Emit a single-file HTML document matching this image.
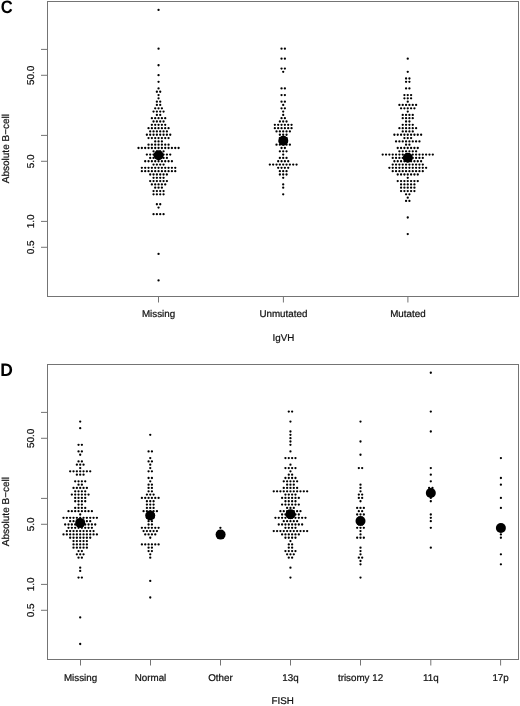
<!DOCTYPE html>
<html><head><meta charset="utf-8"><title>Beeswarm</title>
<style>
html,body{margin:0;padding:0;background:#fff;}
body{width:520px;height:706px;overflow:hidden;font-family:"Liberation Sans",sans-serif;}
svg{display:block;filter:grayscale(1);}
text{text-rendering:geometricPrecision;}
</style></head>
<body>
<svg width="520" height="706" viewBox="0 0 520 706">
<rect width="520" height="706" fill="#fff"/>
<text transform="translate(0.7 13.2) scale(0.92 1)" font-size="18" font-weight="bold" font-family="Liberation Sans, sans-serif" fill="#000">C</text>
<text transform="translate(0.25 376.4) scale(0.97 1)" font-size="18" font-weight="bold" font-family="Liberation Sans, sans-serif" fill="#000">D</text>
<rect x="47.5" y="1.5" width="471" height="295" fill="none" stroke="#747474" stroke-width="1"/>
<line x1="41" y1="49.4" x2="47.5" y2="49.4" stroke="#747474" stroke-width="1"/>
<line x1="41" y1="75.29" x2="47.5" y2="75.29" stroke="#747474" stroke-width="1"/>
<text x="33.6" y="75.29" transform="rotate(-90 33.6 75.29)" text-anchor="middle" font-size="10" font-family="Liberation Sans, sans-serif" fill="#111" stroke="#111" stroke-width="0.22">50.0</text>
<line x1="41" y1="135.4" x2="47.5" y2="135.4" stroke="#747474" stroke-width="1"/>
<line x1="41" y1="161.29" x2="47.5" y2="161.29" stroke="#747474" stroke-width="1"/>
<text x="33.6" y="161.29" transform="rotate(-90 33.6 161.29)" text-anchor="middle" font-size="10" font-family="Liberation Sans, sans-serif" fill="#111" stroke="#111" stroke-width="0.22">5.0</text>
<line x1="41" y1="221.4" x2="47.5" y2="221.4" stroke="#747474" stroke-width="1"/>
<text x="33.6" y="221.4" transform="rotate(-90 33.6 221.4)" text-anchor="middle" font-size="10" font-family="Liberation Sans, sans-serif" fill="#111" stroke="#111" stroke-width="0.22">1.0</text>
<line x1="41" y1="247.29" x2="47.5" y2="247.29" stroke="#747474" stroke-width="1"/>
<text x="33.6" y="247.29" transform="rotate(-90 33.6 247.29)" text-anchor="middle" font-size="10" font-family="Liberation Sans, sans-serif" fill="#111" stroke="#111" stroke-width="0.22">0.5</text>
<line x1="158.5" y1="296" x2="158.5" y2="302.5" stroke="#747474" stroke-width="1"/>
<text x="158.5" y="317" text-anchor="middle" font-size="9.8" font-family="Liberation Sans, sans-serif" fill="#111" stroke="#111" stroke-width="0.22">Missing</text>
<line x1="283.4" y1="296" x2="283.4" y2="302.5" stroke="#747474" stroke-width="1"/>
<text x="283.4" y="317" text-anchor="middle" font-size="9.8" font-family="Liberation Sans, sans-serif" fill="#111" stroke="#111" stroke-width="0.22">Unmutated</text>
<line x1="407.9" y1="296" x2="407.9" y2="302.5" stroke="#747474" stroke-width="1"/>
<text x="407.9" y="317" text-anchor="middle" font-size="9.8" font-family="Liberation Sans, sans-serif" fill="#111" stroke="#111" stroke-width="0.22">Mutated</text>
<text x="283.4" y="340.8" text-anchor="middle" font-size="9.8" font-family="Liberation Sans, sans-serif" fill="#111" stroke="#111" stroke-width="0.22">IgVH</text>
<text x="9.4" y="148.6" transform="rotate(-90 9.4 148.6)" text-anchor="middle" font-size="10" font-family="Liberation Sans, sans-serif" fill="#111" stroke="#111" stroke-width="0.22">Absolute B−cell</text>
<rect x="47.5" y="364.5" width="471" height="295" fill="none" stroke="#747474" stroke-width="1"/>
<line x1="41" y1="412.4" x2="47.5" y2="412.4" stroke="#747474" stroke-width="1"/>
<line x1="41" y1="438.29" x2="47.5" y2="438.29" stroke="#747474" stroke-width="1"/>
<text x="33.6" y="438.29" transform="rotate(-90 33.6 438.29)" text-anchor="middle" font-size="10" font-family="Liberation Sans, sans-serif" fill="#111" stroke="#111" stroke-width="0.22">50.0</text>
<line x1="41" y1="498.4" x2="47.5" y2="498.4" stroke="#747474" stroke-width="1"/>
<line x1="41" y1="524.29" x2="47.5" y2="524.29" stroke="#747474" stroke-width="1"/>
<text x="33.6" y="524.29" transform="rotate(-90 33.6 524.29)" text-anchor="middle" font-size="10" font-family="Liberation Sans, sans-serif" fill="#111" stroke="#111" stroke-width="0.22">5.0</text>
<line x1="41" y1="584.4" x2="47.5" y2="584.4" stroke="#747474" stroke-width="1"/>
<text x="33.6" y="584.4" transform="rotate(-90 33.6 584.4)" text-anchor="middle" font-size="10" font-family="Liberation Sans, sans-serif" fill="#111" stroke="#111" stroke-width="0.22">1.0</text>
<line x1="41" y1="610.29" x2="47.5" y2="610.29" stroke="#747474" stroke-width="1"/>
<text x="33.6" y="610.29" transform="rotate(-90 33.6 610.29)" text-anchor="middle" font-size="10" font-family="Liberation Sans, sans-serif" fill="#111" stroke="#111" stroke-width="0.22">0.5</text>
<line x1="80.5" y1="659" x2="80.5" y2="665.5" stroke="#747474" stroke-width="1"/>
<text x="80.5" y="681.2" text-anchor="middle" font-size="9.8" font-family="Liberation Sans, sans-serif" fill="#111" stroke="#111" stroke-width="0.22">Missing</text>
<line x1="150.5" y1="659" x2="150.5" y2="665.5" stroke="#747474" stroke-width="1"/>
<text x="150.5" y="681.2" text-anchor="middle" font-size="9.8" font-family="Liberation Sans, sans-serif" fill="#111" stroke="#111" stroke-width="0.22">Normal</text>
<line x1="220.5" y1="659" x2="220.5" y2="665.5" stroke="#747474" stroke-width="1"/>
<text x="220.5" y="681.2" text-anchor="middle" font-size="9.8" font-family="Liberation Sans, sans-serif" fill="#111" stroke="#111" stroke-width="0.22">Other</text>
<line x1="290.5" y1="659" x2="290.5" y2="665.5" stroke="#747474" stroke-width="1"/>
<text x="290.5" y="681.2" text-anchor="middle" font-size="9.8" font-family="Liberation Sans, sans-serif" fill="#111" stroke="#111" stroke-width="0.22">13q</text>
<line x1="360.5" y1="659" x2="360.5" y2="665.5" stroke="#747474" stroke-width="1"/>
<text x="360.5" y="681.2" text-anchor="middle" font-size="9.8" font-family="Liberation Sans, sans-serif" fill="#111" stroke="#111" stroke-width="0.22">trisomy 12</text>
<line x1="430.8" y1="659" x2="430.8" y2="665.5" stroke="#747474" stroke-width="1"/>
<text x="430.8" y="681.2" text-anchor="middle" font-size="9.8" font-family="Liberation Sans, sans-serif" fill="#111" stroke="#111" stroke-width="0.22">11q</text>
<line x1="500.6" y1="659" x2="500.6" y2="665.5" stroke="#747474" stroke-width="1"/>
<text x="500.6" y="681.2" text-anchor="middle" font-size="9.8" font-family="Liberation Sans, sans-serif" fill="#111" stroke="#111" stroke-width="0.22">17p</text>
<text x="282.6" y="704.1" text-anchor="middle" font-size="9.8" font-family="Liberation Sans, sans-serif" fill="#111" stroke="#111" stroke-width="0.22">FISH</text>
<text x="9.4" y="511.6" transform="rotate(-90 9.4 511.6)" text-anchor="middle" font-size="10" font-family="Liberation Sans, sans-serif" fill="#111" stroke="#111" stroke-width="0.22">Absolute B−cell</text>
<g fill="#000">
<circle cx="158.55" cy="9.97" r="1.15"/>
<circle cx="158.55" cy="48.7" r="1.15"/>
<circle cx="158.55" cy="65.25" r="1.15"/>
<circle cx="158.55" cy="75.18" r="1.15"/>
<circle cx="158.55" cy="81.8" r="1.15"/>
<circle cx="158.55" cy="88.42" r="1.15"/>
<circle cx="156.88" cy="91.73" r="1.15"/>
<circle cx="160.22" cy="91.73" r="1.15"/>
<circle cx="158.55" cy="95.04" r="1.15"/>
<circle cx="158.55" cy="98.35" r="1.15"/>
<circle cx="156.88" cy="101.66" r="1.15"/>
<circle cx="160.22" cy="101.66" r="1.15"/>
<circle cx="156.88" cy="104.97" r="1.15"/>
<circle cx="160.22" cy="104.97" r="1.15"/>
<circle cx="155.21" cy="108.28" r="1.15"/>
<circle cx="158.55" cy="108.28" r="1.15"/>
<circle cx="161.89" cy="108.28" r="1.15"/>
<circle cx="153.54" cy="111.59" r="1.15"/>
<circle cx="156.88" cy="111.59" r="1.15"/>
<circle cx="160.22" cy="111.59" r="1.15"/>
<circle cx="163.56" cy="111.59" r="1.15"/>
<circle cx="156.88" cy="114.9" r="1.15"/>
<circle cx="160.22" cy="114.9" r="1.15"/>
<circle cx="151.87" cy="118.21" r="1.15"/>
<circle cx="155.21" cy="118.21" r="1.15"/>
<circle cx="158.55" cy="118.21" r="1.15"/>
<circle cx="161.89" cy="118.21" r="1.15"/>
<circle cx="165.23" cy="118.21" r="1.15"/>
<circle cx="153.54" cy="121.52" r="1.15"/>
<circle cx="156.88" cy="121.52" r="1.15"/>
<circle cx="160.22" cy="121.52" r="1.15"/>
<circle cx="163.56" cy="121.52" r="1.15"/>
<circle cx="151.87" cy="124.83" r="1.15"/>
<circle cx="155.21" cy="124.83" r="1.15"/>
<circle cx="158.55" cy="124.83" r="1.15"/>
<circle cx="161.89" cy="124.83" r="1.15"/>
<circle cx="165.23" cy="124.83" r="1.15"/>
<circle cx="148.53" cy="128.14" r="1.15"/>
<circle cx="151.87" cy="128.14" r="1.15"/>
<circle cx="155.21" cy="128.14" r="1.15"/>
<circle cx="158.55" cy="128.14" r="1.15"/>
<circle cx="161.89" cy="128.14" r="1.15"/>
<circle cx="165.23" cy="128.14" r="1.15"/>
<circle cx="168.57" cy="128.14" r="1.15"/>
<circle cx="150.2" cy="131.45" r="1.15"/>
<circle cx="153.54" cy="131.45" r="1.15"/>
<circle cx="156.88" cy="131.45" r="1.15"/>
<circle cx="160.22" cy="131.45" r="1.15"/>
<circle cx="163.56" cy="131.45" r="1.15"/>
<circle cx="166.9" cy="131.45" r="1.15"/>
<circle cx="146.86" cy="134.76" r="1.15"/>
<circle cx="150.2" cy="134.76" r="1.15"/>
<circle cx="153.54" cy="134.76" r="1.15"/>
<circle cx="156.88" cy="134.76" r="1.15"/>
<circle cx="160.22" cy="134.76" r="1.15"/>
<circle cx="163.56" cy="134.76" r="1.15"/>
<circle cx="166.9" cy="134.76" r="1.15"/>
<circle cx="170.24" cy="134.76" r="1.15"/>
<circle cx="148.53" cy="138.07" r="1.15"/>
<circle cx="151.87" cy="138.07" r="1.15"/>
<circle cx="155.21" cy="138.07" r="1.15"/>
<circle cx="158.55" cy="138.07" r="1.15"/>
<circle cx="161.89" cy="138.07" r="1.15"/>
<circle cx="165.23" cy="138.07" r="1.15"/>
<circle cx="168.57" cy="138.07" r="1.15"/>
<circle cx="155.21" cy="141.38" r="1.15"/>
<circle cx="158.55" cy="141.38" r="1.15"/>
<circle cx="161.89" cy="141.38" r="1.15"/>
<circle cx="148.53" cy="144.69" r="1.15"/>
<circle cx="151.87" cy="144.69" r="1.15"/>
<circle cx="155.21" cy="144.69" r="1.15"/>
<circle cx="158.55" cy="144.69" r="1.15"/>
<circle cx="161.89" cy="144.69" r="1.15"/>
<circle cx="165.23" cy="144.69" r="1.15"/>
<circle cx="168.57" cy="144.69" r="1.15"/>
<circle cx="138.51" cy="148" r="1.15"/>
<circle cx="141.85" cy="148" r="1.15"/>
<circle cx="145.19" cy="148" r="1.15"/>
<circle cx="148.53" cy="148" r="1.15"/>
<circle cx="151.87" cy="148" r="1.15"/>
<circle cx="155.21" cy="148" r="1.15"/>
<circle cx="158.55" cy="148" r="1.15"/>
<circle cx="161.89" cy="148" r="1.15"/>
<circle cx="165.23" cy="148" r="1.15"/>
<circle cx="168.57" cy="148" r="1.15"/>
<circle cx="171.91" cy="148" r="1.15"/>
<circle cx="175.25" cy="148" r="1.15"/>
<circle cx="178.59" cy="148" r="1.15"/>
<circle cx="153.54" cy="151.31" r="1.15"/>
<circle cx="156.88" cy="151.31" r="1.15"/>
<circle cx="160.22" cy="151.31" r="1.15"/>
<circle cx="163.56" cy="151.31" r="1.15"/>
<circle cx="146.86" cy="154.62" r="1.15"/>
<circle cx="150.2" cy="154.62" r="1.15"/>
<circle cx="153.54" cy="154.62" r="1.15"/>
<circle cx="156.88" cy="154.62" r="1.15"/>
<circle cx="160.22" cy="154.62" r="1.15"/>
<circle cx="163.56" cy="154.62" r="1.15"/>
<circle cx="166.9" cy="154.62" r="1.15"/>
<circle cx="170.24" cy="154.62" r="1.15"/>
<circle cx="150.2" cy="157.93" r="1.15"/>
<circle cx="153.54" cy="157.93" r="1.15"/>
<circle cx="156.88" cy="157.93" r="1.15"/>
<circle cx="160.22" cy="157.93" r="1.15"/>
<circle cx="163.56" cy="157.93" r="1.15"/>
<circle cx="166.9" cy="157.93" r="1.15"/>
<circle cx="145.19" cy="161.24" r="1.15"/>
<circle cx="148.53" cy="161.24" r="1.15"/>
<circle cx="151.87" cy="161.24" r="1.15"/>
<circle cx="155.21" cy="161.24" r="1.15"/>
<circle cx="158.55" cy="161.24" r="1.15"/>
<circle cx="161.89" cy="161.24" r="1.15"/>
<circle cx="165.23" cy="161.24" r="1.15"/>
<circle cx="168.57" cy="161.24" r="1.15"/>
<circle cx="171.91" cy="161.24" r="1.15"/>
<circle cx="153.54" cy="164.55" r="1.15"/>
<circle cx="156.88" cy="164.55" r="1.15"/>
<circle cx="160.22" cy="164.55" r="1.15"/>
<circle cx="163.56" cy="164.55" r="1.15"/>
<circle cx="141.85" cy="167.86" r="1.15"/>
<circle cx="145.19" cy="167.86" r="1.15"/>
<circle cx="148.53" cy="167.86" r="1.15"/>
<circle cx="151.87" cy="167.86" r="1.15"/>
<circle cx="155.21" cy="167.86" r="1.15"/>
<circle cx="158.55" cy="167.86" r="1.15"/>
<circle cx="161.89" cy="167.86" r="1.15"/>
<circle cx="165.23" cy="167.86" r="1.15"/>
<circle cx="168.57" cy="167.86" r="1.15"/>
<circle cx="171.91" cy="167.86" r="1.15"/>
<circle cx="175.25" cy="167.86" r="1.15"/>
<circle cx="141.85" cy="171.17" r="1.15"/>
<circle cx="145.19" cy="171.17" r="1.15"/>
<circle cx="148.53" cy="171.17" r="1.15"/>
<circle cx="151.87" cy="171.17" r="1.15"/>
<circle cx="155.21" cy="171.17" r="1.15"/>
<circle cx="158.55" cy="171.17" r="1.15"/>
<circle cx="161.89" cy="171.17" r="1.15"/>
<circle cx="165.23" cy="171.17" r="1.15"/>
<circle cx="168.57" cy="171.17" r="1.15"/>
<circle cx="171.91" cy="171.17" r="1.15"/>
<circle cx="175.25" cy="171.17" r="1.15"/>
<circle cx="150.2" cy="174.48" r="1.15"/>
<circle cx="153.54" cy="174.48" r="1.15"/>
<circle cx="156.88" cy="174.48" r="1.15"/>
<circle cx="160.22" cy="174.48" r="1.15"/>
<circle cx="163.56" cy="174.48" r="1.15"/>
<circle cx="166.9" cy="174.48" r="1.15"/>
<circle cx="153.54" cy="177.79" r="1.15"/>
<circle cx="156.88" cy="177.79" r="1.15"/>
<circle cx="160.22" cy="177.79" r="1.15"/>
<circle cx="163.56" cy="177.79" r="1.15"/>
<circle cx="150.2" cy="181.1" r="1.15"/>
<circle cx="153.54" cy="181.1" r="1.15"/>
<circle cx="156.88" cy="181.1" r="1.15"/>
<circle cx="160.22" cy="181.1" r="1.15"/>
<circle cx="163.56" cy="181.1" r="1.15"/>
<circle cx="166.9" cy="181.1" r="1.15"/>
<circle cx="151.87" cy="184.41" r="1.15"/>
<circle cx="155.21" cy="184.41" r="1.15"/>
<circle cx="158.55" cy="184.41" r="1.15"/>
<circle cx="161.89" cy="184.41" r="1.15"/>
<circle cx="165.23" cy="184.41" r="1.15"/>
<circle cx="155.21" cy="187.72" r="1.15"/>
<circle cx="158.55" cy="187.72" r="1.15"/>
<circle cx="161.89" cy="187.72" r="1.15"/>
<circle cx="153.54" cy="191.03" r="1.15"/>
<circle cx="156.88" cy="191.03" r="1.15"/>
<circle cx="160.22" cy="191.03" r="1.15"/>
<circle cx="163.56" cy="191.03" r="1.15"/>
<circle cx="153.54" cy="194.34" r="1.15"/>
<circle cx="156.88" cy="194.34" r="1.15"/>
<circle cx="160.22" cy="194.34" r="1.15"/>
<circle cx="163.56" cy="194.34" r="1.15"/>
<circle cx="156.88" cy="204.27" r="1.15"/>
<circle cx="160.22" cy="204.27" r="1.15"/>
<circle cx="158.55" cy="207.58" r="1.15"/>
<circle cx="153.54" cy="214.2" r="1.15"/>
<circle cx="156.88" cy="214.2" r="1.15"/>
<circle cx="160.22" cy="214.2" r="1.15"/>
<circle cx="163.56" cy="214.2" r="1.15"/>
<circle cx="158.55" cy="253.92" r="1.15"/>
<circle cx="158.55" cy="280.4" r="1.15"/>
<circle cx="281.53" cy="48.7" r="1.15"/>
<circle cx="284.87" cy="48.7" r="1.15"/>
<circle cx="281.53" cy="58.63" r="1.15"/>
<circle cx="284.87" cy="58.63" r="1.15"/>
<circle cx="281.53" cy="68.56" r="1.15"/>
<circle cx="284.87" cy="68.56" r="1.15"/>
<circle cx="283.2" cy="71.87" r="1.15"/>
<circle cx="281.53" cy="88.42" r="1.15"/>
<circle cx="284.87" cy="88.42" r="1.15"/>
<circle cx="281.53" cy="95.04" r="1.15"/>
<circle cx="284.87" cy="95.04" r="1.15"/>
<circle cx="281.53" cy="101.66" r="1.15"/>
<circle cx="284.87" cy="101.66" r="1.15"/>
<circle cx="283.2" cy="104.97" r="1.15"/>
<circle cx="281.53" cy="108.28" r="1.15"/>
<circle cx="284.87" cy="108.28" r="1.15"/>
<circle cx="283.2" cy="111.59" r="1.15"/>
<circle cx="283.2" cy="114.9" r="1.15"/>
<circle cx="281.53" cy="118.21" r="1.15"/>
<circle cx="284.87" cy="118.21" r="1.15"/>
<circle cx="279.86" cy="121.52" r="1.15"/>
<circle cx="283.2" cy="121.52" r="1.15"/>
<circle cx="286.54" cy="121.52" r="1.15"/>
<circle cx="274.85" cy="124.83" r="1.15"/>
<circle cx="278.19" cy="124.83" r="1.15"/>
<circle cx="281.53" cy="124.83" r="1.15"/>
<circle cx="284.87" cy="124.83" r="1.15"/>
<circle cx="288.21" cy="124.83" r="1.15"/>
<circle cx="291.55" cy="124.83" r="1.15"/>
<circle cx="274.85" cy="128.14" r="1.15"/>
<circle cx="278.19" cy="128.14" r="1.15"/>
<circle cx="281.53" cy="128.14" r="1.15"/>
<circle cx="284.87" cy="128.14" r="1.15"/>
<circle cx="288.21" cy="128.14" r="1.15"/>
<circle cx="291.55" cy="128.14" r="1.15"/>
<circle cx="276.52" cy="131.45" r="1.15"/>
<circle cx="279.86" cy="131.45" r="1.15"/>
<circle cx="283.2" cy="131.45" r="1.15"/>
<circle cx="286.54" cy="131.45" r="1.15"/>
<circle cx="289.88" cy="131.45" r="1.15"/>
<circle cx="279.86" cy="134.76" r="1.15"/>
<circle cx="283.2" cy="134.76" r="1.15"/>
<circle cx="286.54" cy="134.76" r="1.15"/>
<circle cx="279.86" cy="138.07" r="1.15"/>
<circle cx="283.2" cy="138.07" r="1.15"/>
<circle cx="286.54" cy="138.07" r="1.15"/>
<circle cx="279.86" cy="141.38" r="1.15"/>
<circle cx="283.2" cy="141.38" r="1.15"/>
<circle cx="286.54" cy="141.38" r="1.15"/>
<circle cx="276.52" cy="144.69" r="1.15"/>
<circle cx="279.86" cy="144.69" r="1.15"/>
<circle cx="283.2" cy="144.69" r="1.15"/>
<circle cx="286.54" cy="144.69" r="1.15"/>
<circle cx="289.88" cy="144.69" r="1.15"/>
<circle cx="281.53" cy="148" r="1.15"/>
<circle cx="284.87" cy="148" r="1.15"/>
<circle cx="279.86" cy="151.31" r="1.15"/>
<circle cx="283.2" cy="151.31" r="1.15"/>
<circle cx="286.54" cy="151.31" r="1.15"/>
<circle cx="283.2" cy="154.62" r="1.15"/>
<circle cx="279.86" cy="157.93" r="1.15"/>
<circle cx="283.2" cy="157.93" r="1.15"/>
<circle cx="286.54" cy="157.93" r="1.15"/>
<circle cx="278.19" cy="161.24" r="1.15"/>
<circle cx="281.53" cy="161.24" r="1.15"/>
<circle cx="284.87" cy="161.24" r="1.15"/>
<circle cx="288.21" cy="161.24" r="1.15"/>
<circle cx="269.84" cy="164.55" r="1.15"/>
<circle cx="273.18" cy="164.55" r="1.15"/>
<circle cx="276.52" cy="164.55" r="1.15"/>
<circle cx="279.86" cy="164.55" r="1.15"/>
<circle cx="283.2" cy="164.55" r="1.15"/>
<circle cx="286.54" cy="164.55" r="1.15"/>
<circle cx="289.88" cy="164.55" r="1.15"/>
<circle cx="293.22" cy="164.55" r="1.15"/>
<circle cx="296.56" cy="164.55" r="1.15"/>
<circle cx="278.19" cy="167.86" r="1.15"/>
<circle cx="281.53" cy="167.86" r="1.15"/>
<circle cx="284.87" cy="167.86" r="1.15"/>
<circle cx="288.21" cy="167.86" r="1.15"/>
<circle cx="279.86" cy="171.17" r="1.15"/>
<circle cx="283.2" cy="171.17" r="1.15"/>
<circle cx="286.54" cy="171.17" r="1.15"/>
<circle cx="279.86" cy="174.48" r="1.15"/>
<circle cx="283.2" cy="174.48" r="1.15"/>
<circle cx="286.54" cy="174.48" r="1.15"/>
<circle cx="283.2" cy="177.79" r="1.15"/>
<circle cx="283.2" cy="184.41" r="1.15"/>
<circle cx="283.2" cy="187.72" r="1.15"/>
<circle cx="283.2" cy="194.34" r="1.15"/>
<circle cx="407.75" cy="58.63" r="1.15"/>
<circle cx="407.75" cy="71.87" r="1.15"/>
<circle cx="406.08" cy="78.49" r="1.15"/>
<circle cx="409.42" cy="78.49" r="1.15"/>
<circle cx="406.08" cy="81.8" r="1.15"/>
<circle cx="409.42" cy="81.8" r="1.15"/>
<circle cx="406.08" cy="88.42" r="1.15"/>
<circle cx="409.42" cy="88.42" r="1.15"/>
<circle cx="404.41" cy="95.04" r="1.15"/>
<circle cx="407.75" cy="95.04" r="1.15"/>
<circle cx="411.09" cy="95.04" r="1.15"/>
<circle cx="404.41" cy="98.35" r="1.15"/>
<circle cx="407.75" cy="98.35" r="1.15"/>
<circle cx="411.09" cy="98.35" r="1.15"/>
<circle cx="407.75" cy="101.66" r="1.15"/>
<circle cx="399.4" cy="104.97" r="1.15"/>
<circle cx="402.74" cy="104.97" r="1.15"/>
<circle cx="406.08" cy="104.97" r="1.15"/>
<circle cx="409.42" cy="104.97" r="1.15"/>
<circle cx="412.76" cy="104.97" r="1.15"/>
<circle cx="416.1" cy="104.97" r="1.15"/>
<circle cx="401.07" cy="108.28" r="1.15"/>
<circle cx="404.41" cy="108.28" r="1.15"/>
<circle cx="407.75" cy="108.28" r="1.15"/>
<circle cx="411.09" cy="108.28" r="1.15"/>
<circle cx="414.43" cy="108.28" r="1.15"/>
<circle cx="407.75" cy="111.59" r="1.15"/>
<circle cx="402.74" cy="114.9" r="1.15"/>
<circle cx="406.08" cy="114.9" r="1.15"/>
<circle cx="409.42" cy="114.9" r="1.15"/>
<circle cx="412.76" cy="114.9" r="1.15"/>
<circle cx="402.74" cy="118.21" r="1.15"/>
<circle cx="406.08" cy="118.21" r="1.15"/>
<circle cx="409.42" cy="118.21" r="1.15"/>
<circle cx="412.76" cy="118.21" r="1.15"/>
<circle cx="406.08" cy="121.52" r="1.15"/>
<circle cx="409.42" cy="121.52" r="1.15"/>
<circle cx="402.74" cy="124.83" r="1.15"/>
<circle cx="406.08" cy="124.83" r="1.15"/>
<circle cx="409.42" cy="124.83" r="1.15"/>
<circle cx="412.76" cy="124.83" r="1.15"/>
<circle cx="399.4" cy="128.14" r="1.15"/>
<circle cx="402.74" cy="128.14" r="1.15"/>
<circle cx="406.08" cy="128.14" r="1.15"/>
<circle cx="409.42" cy="128.14" r="1.15"/>
<circle cx="412.76" cy="128.14" r="1.15"/>
<circle cx="416.1" cy="128.14" r="1.15"/>
<circle cx="402.74" cy="131.45" r="1.15"/>
<circle cx="406.08" cy="131.45" r="1.15"/>
<circle cx="409.42" cy="131.45" r="1.15"/>
<circle cx="412.76" cy="131.45" r="1.15"/>
<circle cx="394.39" cy="134.76" r="1.15"/>
<circle cx="397.73" cy="134.76" r="1.15"/>
<circle cx="401.07" cy="134.76" r="1.15"/>
<circle cx="404.41" cy="134.76" r="1.15"/>
<circle cx="407.75" cy="134.76" r="1.15"/>
<circle cx="411.09" cy="134.76" r="1.15"/>
<circle cx="414.43" cy="134.76" r="1.15"/>
<circle cx="417.77" cy="134.76" r="1.15"/>
<circle cx="421.11" cy="134.76" r="1.15"/>
<circle cx="404.41" cy="138.07" r="1.15"/>
<circle cx="407.75" cy="138.07" r="1.15"/>
<circle cx="411.09" cy="138.07" r="1.15"/>
<circle cx="396.06" cy="141.38" r="1.15"/>
<circle cx="399.4" cy="141.38" r="1.15"/>
<circle cx="402.74" cy="141.38" r="1.15"/>
<circle cx="406.08" cy="141.38" r="1.15"/>
<circle cx="409.42" cy="141.38" r="1.15"/>
<circle cx="412.76" cy="141.38" r="1.15"/>
<circle cx="416.1" cy="141.38" r="1.15"/>
<circle cx="419.44" cy="141.38" r="1.15"/>
<circle cx="406.08" cy="144.69" r="1.15"/>
<circle cx="409.42" cy="144.69" r="1.15"/>
<circle cx="397.73" cy="148" r="1.15"/>
<circle cx="401.07" cy="148" r="1.15"/>
<circle cx="404.41" cy="148" r="1.15"/>
<circle cx="407.75" cy="148" r="1.15"/>
<circle cx="411.09" cy="148" r="1.15"/>
<circle cx="414.43" cy="148" r="1.15"/>
<circle cx="417.77" cy="148" r="1.15"/>
<circle cx="399.4" cy="151.31" r="1.15"/>
<circle cx="402.74" cy="151.31" r="1.15"/>
<circle cx="406.08" cy="151.31" r="1.15"/>
<circle cx="409.42" cy="151.31" r="1.15"/>
<circle cx="412.76" cy="151.31" r="1.15"/>
<circle cx="416.1" cy="151.31" r="1.15"/>
<circle cx="382.7" cy="154.62" r="1.15"/>
<circle cx="386.04" cy="154.62" r="1.15"/>
<circle cx="389.38" cy="154.62" r="1.15"/>
<circle cx="392.72" cy="154.62" r="1.15"/>
<circle cx="396.06" cy="154.62" r="1.15"/>
<circle cx="399.4" cy="154.62" r="1.15"/>
<circle cx="402.74" cy="154.62" r="1.15"/>
<circle cx="406.08" cy="154.62" r="1.15"/>
<circle cx="409.42" cy="154.62" r="1.15"/>
<circle cx="412.76" cy="154.62" r="1.15"/>
<circle cx="416.1" cy="154.62" r="1.15"/>
<circle cx="419.44" cy="154.62" r="1.15"/>
<circle cx="422.78" cy="154.62" r="1.15"/>
<circle cx="426.12" cy="154.62" r="1.15"/>
<circle cx="429.46" cy="154.62" r="1.15"/>
<circle cx="432.8" cy="154.62" r="1.15"/>
<circle cx="392.72" cy="157.93" r="1.15"/>
<circle cx="396.06" cy="157.93" r="1.15"/>
<circle cx="399.4" cy="157.93" r="1.15"/>
<circle cx="402.74" cy="157.93" r="1.15"/>
<circle cx="406.08" cy="157.93" r="1.15"/>
<circle cx="409.42" cy="157.93" r="1.15"/>
<circle cx="412.76" cy="157.93" r="1.15"/>
<circle cx="416.1" cy="157.93" r="1.15"/>
<circle cx="419.44" cy="157.93" r="1.15"/>
<circle cx="422.78" cy="157.93" r="1.15"/>
<circle cx="394.39" cy="161.24" r="1.15"/>
<circle cx="397.73" cy="161.24" r="1.15"/>
<circle cx="401.07" cy="161.24" r="1.15"/>
<circle cx="404.41" cy="161.24" r="1.15"/>
<circle cx="407.75" cy="161.24" r="1.15"/>
<circle cx="411.09" cy="161.24" r="1.15"/>
<circle cx="414.43" cy="161.24" r="1.15"/>
<circle cx="417.77" cy="161.24" r="1.15"/>
<circle cx="421.11" cy="161.24" r="1.15"/>
<circle cx="392.72" cy="164.55" r="1.15"/>
<circle cx="396.06" cy="164.55" r="1.15"/>
<circle cx="399.4" cy="164.55" r="1.15"/>
<circle cx="402.74" cy="164.55" r="1.15"/>
<circle cx="406.08" cy="164.55" r="1.15"/>
<circle cx="409.42" cy="164.55" r="1.15"/>
<circle cx="412.76" cy="164.55" r="1.15"/>
<circle cx="416.1" cy="164.55" r="1.15"/>
<circle cx="419.44" cy="164.55" r="1.15"/>
<circle cx="422.78" cy="164.55" r="1.15"/>
<circle cx="389.38" cy="167.86" r="1.15"/>
<circle cx="392.72" cy="167.86" r="1.15"/>
<circle cx="396.06" cy="167.86" r="1.15"/>
<circle cx="399.4" cy="167.86" r="1.15"/>
<circle cx="402.74" cy="167.86" r="1.15"/>
<circle cx="406.08" cy="167.86" r="1.15"/>
<circle cx="409.42" cy="167.86" r="1.15"/>
<circle cx="412.76" cy="167.86" r="1.15"/>
<circle cx="416.1" cy="167.86" r="1.15"/>
<circle cx="419.44" cy="167.86" r="1.15"/>
<circle cx="422.78" cy="167.86" r="1.15"/>
<circle cx="426.12" cy="167.86" r="1.15"/>
<circle cx="392.72" cy="171.17" r="1.15"/>
<circle cx="396.06" cy="171.17" r="1.15"/>
<circle cx="399.4" cy="171.17" r="1.15"/>
<circle cx="402.74" cy="171.17" r="1.15"/>
<circle cx="406.08" cy="171.17" r="1.15"/>
<circle cx="409.42" cy="171.17" r="1.15"/>
<circle cx="412.76" cy="171.17" r="1.15"/>
<circle cx="416.1" cy="171.17" r="1.15"/>
<circle cx="419.44" cy="171.17" r="1.15"/>
<circle cx="422.78" cy="171.17" r="1.15"/>
<circle cx="397.73" cy="174.48" r="1.15"/>
<circle cx="401.07" cy="174.48" r="1.15"/>
<circle cx="404.41" cy="174.48" r="1.15"/>
<circle cx="407.75" cy="174.48" r="1.15"/>
<circle cx="411.09" cy="174.48" r="1.15"/>
<circle cx="414.43" cy="174.48" r="1.15"/>
<circle cx="417.77" cy="174.48" r="1.15"/>
<circle cx="407.75" cy="177.79" r="1.15"/>
<circle cx="397.73" cy="181.1" r="1.15"/>
<circle cx="401.07" cy="181.1" r="1.15"/>
<circle cx="404.41" cy="181.1" r="1.15"/>
<circle cx="407.75" cy="181.1" r="1.15"/>
<circle cx="411.09" cy="181.1" r="1.15"/>
<circle cx="414.43" cy="181.1" r="1.15"/>
<circle cx="417.77" cy="181.1" r="1.15"/>
<circle cx="401.07" cy="184.41" r="1.15"/>
<circle cx="404.41" cy="184.41" r="1.15"/>
<circle cx="407.75" cy="184.41" r="1.15"/>
<circle cx="411.09" cy="184.41" r="1.15"/>
<circle cx="414.43" cy="184.41" r="1.15"/>
<circle cx="401.07" cy="187.72" r="1.15"/>
<circle cx="404.41" cy="187.72" r="1.15"/>
<circle cx="407.75" cy="187.72" r="1.15"/>
<circle cx="411.09" cy="187.72" r="1.15"/>
<circle cx="414.43" cy="187.72" r="1.15"/>
<circle cx="401.07" cy="191.03" r="1.15"/>
<circle cx="404.41" cy="191.03" r="1.15"/>
<circle cx="407.75" cy="191.03" r="1.15"/>
<circle cx="411.09" cy="191.03" r="1.15"/>
<circle cx="414.43" cy="191.03" r="1.15"/>
<circle cx="406.08" cy="194.34" r="1.15"/>
<circle cx="409.42" cy="194.34" r="1.15"/>
<circle cx="407.75" cy="197.65" r="1.15"/>
<circle cx="406.08" cy="200.96" r="1.15"/>
<circle cx="409.42" cy="200.96" r="1.15"/>
<circle cx="407.75" cy="217.51" r="1.15"/>
<circle cx="407.75" cy="234.06" r="1.15"/>
<circle cx="80.2" cy="421.56" r="1.15"/>
<circle cx="80.2" cy="428.2" r="1.15"/>
<circle cx="78.53" cy="444.8" r="1.15"/>
<circle cx="81.87" cy="444.8" r="1.15"/>
<circle cx="78.53" cy="451.44" r="1.15"/>
<circle cx="81.87" cy="451.44" r="1.15"/>
<circle cx="80.2" cy="454.76" r="1.15"/>
<circle cx="78.53" cy="461.4" r="1.15"/>
<circle cx="81.87" cy="461.4" r="1.15"/>
<circle cx="76.86" cy="464.72" r="1.15"/>
<circle cx="80.2" cy="464.72" r="1.15"/>
<circle cx="83.54" cy="464.72" r="1.15"/>
<circle cx="80.2" cy="468.04" r="1.15"/>
<circle cx="70.18" cy="471.36" r="1.15"/>
<circle cx="73.52" cy="471.36" r="1.15"/>
<circle cx="76.86" cy="471.36" r="1.15"/>
<circle cx="80.2" cy="471.36" r="1.15"/>
<circle cx="83.54" cy="471.36" r="1.15"/>
<circle cx="86.88" cy="471.36" r="1.15"/>
<circle cx="90.22" cy="471.36" r="1.15"/>
<circle cx="76.86" cy="474.68" r="1.15"/>
<circle cx="80.2" cy="474.68" r="1.15"/>
<circle cx="83.54" cy="474.68" r="1.15"/>
<circle cx="75.19" cy="481.32" r="1.15"/>
<circle cx="78.53" cy="481.32" r="1.15"/>
<circle cx="81.87" cy="481.32" r="1.15"/>
<circle cx="85.21" cy="481.32" r="1.15"/>
<circle cx="78.53" cy="484.64" r="1.15"/>
<circle cx="81.87" cy="484.64" r="1.15"/>
<circle cx="73.52" cy="487.96" r="1.15"/>
<circle cx="76.86" cy="487.96" r="1.15"/>
<circle cx="80.2" cy="487.96" r="1.15"/>
<circle cx="83.54" cy="487.96" r="1.15"/>
<circle cx="86.88" cy="487.96" r="1.15"/>
<circle cx="75.19" cy="491.28" r="1.15"/>
<circle cx="78.53" cy="491.28" r="1.15"/>
<circle cx="81.87" cy="491.28" r="1.15"/>
<circle cx="85.21" cy="491.28" r="1.15"/>
<circle cx="71.85" cy="494.6" r="1.15"/>
<circle cx="75.19" cy="494.6" r="1.15"/>
<circle cx="78.53" cy="494.6" r="1.15"/>
<circle cx="81.87" cy="494.6" r="1.15"/>
<circle cx="85.21" cy="494.6" r="1.15"/>
<circle cx="88.55" cy="494.6" r="1.15"/>
<circle cx="75.19" cy="497.92" r="1.15"/>
<circle cx="78.53" cy="497.92" r="1.15"/>
<circle cx="81.87" cy="497.92" r="1.15"/>
<circle cx="85.21" cy="497.92" r="1.15"/>
<circle cx="75.19" cy="501.24" r="1.15"/>
<circle cx="78.53" cy="501.24" r="1.15"/>
<circle cx="81.87" cy="501.24" r="1.15"/>
<circle cx="85.21" cy="501.24" r="1.15"/>
<circle cx="78.53" cy="504.56" r="1.15"/>
<circle cx="81.87" cy="504.56" r="1.15"/>
<circle cx="75.19" cy="507.88" r="1.15"/>
<circle cx="78.53" cy="507.88" r="1.15"/>
<circle cx="81.87" cy="507.88" r="1.15"/>
<circle cx="85.21" cy="507.88" r="1.15"/>
<circle cx="68.51" cy="511.2" r="1.15"/>
<circle cx="71.85" cy="511.2" r="1.15"/>
<circle cx="75.19" cy="511.2" r="1.15"/>
<circle cx="78.53" cy="511.2" r="1.15"/>
<circle cx="81.87" cy="511.2" r="1.15"/>
<circle cx="85.21" cy="511.2" r="1.15"/>
<circle cx="88.55" cy="511.2" r="1.15"/>
<circle cx="91.89" cy="511.2" r="1.15"/>
<circle cx="80.2" cy="514.52" r="1.15"/>
<circle cx="63.5" cy="517.84" r="1.15"/>
<circle cx="66.84" cy="517.84" r="1.15"/>
<circle cx="70.18" cy="517.84" r="1.15"/>
<circle cx="73.52" cy="517.84" r="1.15"/>
<circle cx="76.86" cy="517.84" r="1.15"/>
<circle cx="80.2" cy="517.84" r="1.15"/>
<circle cx="83.54" cy="517.84" r="1.15"/>
<circle cx="86.88" cy="517.84" r="1.15"/>
<circle cx="90.22" cy="517.84" r="1.15"/>
<circle cx="93.56" cy="517.84" r="1.15"/>
<circle cx="96.9" cy="517.84" r="1.15"/>
<circle cx="70.18" cy="521.16" r="1.15"/>
<circle cx="73.52" cy="521.16" r="1.15"/>
<circle cx="76.86" cy="521.16" r="1.15"/>
<circle cx="80.2" cy="521.16" r="1.15"/>
<circle cx="83.54" cy="521.16" r="1.15"/>
<circle cx="86.88" cy="521.16" r="1.15"/>
<circle cx="90.22" cy="521.16" r="1.15"/>
<circle cx="65.17" cy="524.48" r="1.15"/>
<circle cx="68.51" cy="524.48" r="1.15"/>
<circle cx="71.85" cy="524.48" r="1.15"/>
<circle cx="75.19" cy="524.48" r="1.15"/>
<circle cx="78.53" cy="524.48" r="1.15"/>
<circle cx="81.87" cy="524.48" r="1.15"/>
<circle cx="85.21" cy="524.48" r="1.15"/>
<circle cx="88.55" cy="524.48" r="1.15"/>
<circle cx="91.89" cy="524.48" r="1.15"/>
<circle cx="95.23" cy="524.48" r="1.15"/>
<circle cx="68.51" cy="527.8" r="1.15"/>
<circle cx="71.85" cy="527.8" r="1.15"/>
<circle cx="75.19" cy="527.8" r="1.15"/>
<circle cx="78.53" cy="527.8" r="1.15"/>
<circle cx="81.87" cy="527.8" r="1.15"/>
<circle cx="85.21" cy="527.8" r="1.15"/>
<circle cx="88.55" cy="527.8" r="1.15"/>
<circle cx="91.89" cy="527.8" r="1.15"/>
<circle cx="66.84" cy="531.12" r="1.15"/>
<circle cx="70.18" cy="531.12" r="1.15"/>
<circle cx="73.52" cy="531.12" r="1.15"/>
<circle cx="76.86" cy="531.12" r="1.15"/>
<circle cx="80.2" cy="531.12" r="1.15"/>
<circle cx="83.54" cy="531.12" r="1.15"/>
<circle cx="86.88" cy="531.12" r="1.15"/>
<circle cx="90.22" cy="531.12" r="1.15"/>
<circle cx="93.56" cy="531.12" r="1.15"/>
<circle cx="63.5" cy="534.44" r="1.15"/>
<circle cx="66.84" cy="534.44" r="1.15"/>
<circle cx="70.18" cy="534.44" r="1.15"/>
<circle cx="73.52" cy="534.44" r="1.15"/>
<circle cx="76.86" cy="534.44" r="1.15"/>
<circle cx="80.2" cy="534.44" r="1.15"/>
<circle cx="83.54" cy="534.44" r="1.15"/>
<circle cx="86.88" cy="534.44" r="1.15"/>
<circle cx="90.22" cy="534.44" r="1.15"/>
<circle cx="93.56" cy="534.44" r="1.15"/>
<circle cx="96.9" cy="534.44" r="1.15"/>
<circle cx="70.18" cy="537.76" r="1.15"/>
<circle cx="73.52" cy="537.76" r="1.15"/>
<circle cx="76.86" cy="537.76" r="1.15"/>
<circle cx="80.2" cy="537.76" r="1.15"/>
<circle cx="83.54" cy="537.76" r="1.15"/>
<circle cx="86.88" cy="537.76" r="1.15"/>
<circle cx="90.22" cy="537.76" r="1.15"/>
<circle cx="73.52" cy="541.08" r="1.15"/>
<circle cx="76.86" cy="541.08" r="1.15"/>
<circle cx="80.2" cy="541.08" r="1.15"/>
<circle cx="83.54" cy="541.08" r="1.15"/>
<circle cx="86.88" cy="541.08" r="1.15"/>
<circle cx="73.52" cy="544.4" r="1.15"/>
<circle cx="76.86" cy="544.4" r="1.15"/>
<circle cx="80.2" cy="544.4" r="1.15"/>
<circle cx="83.54" cy="544.4" r="1.15"/>
<circle cx="86.88" cy="544.4" r="1.15"/>
<circle cx="73.52" cy="547.72" r="1.15"/>
<circle cx="76.86" cy="547.72" r="1.15"/>
<circle cx="80.2" cy="547.72" r="1.15"/>
<circle cx="83.54" cy="547.72" r="1.15"/>
<circle cx="86.88" cy="547.72" r="1.15"/>
<circle cx="78.53" cy="551.04" r="1.15"/>
<circle cx="81.87" cy="551.04" r="1.15"/>
<circle cx="76.86" cy="554.36" r="1.15"/>
<circle cx="80.2" cy="554.36" r="1.15"/>
<circle cx="83.54" cy="554.36" r="1.15"/>
<circle cx="78.53" cy="557.68" r="1.15"/>
<circle cx="81.87" cy="557.68" r="1.15"/>
<circle cx="80.2" cy="567.64" r="1.15"/>
<circle cx="80.2" cy="570.96" r="1.15"/>
<circle cx="78.53" cy="577.6" r="1.15"/>
<circle cx="81.87" cy="577.6" r="1.15"/>
<circle cx="80.2" cy="617.44" r="1.15"/>
<circle cx="80.2" cy="644" r="1.15"/>
<circle cx="150.25" cy="434.84" r="1.15"/>
<circle cx="148.58" cy="451.44" r="1.15"/>
<circle cx="151.92" cy="451.44" r="1.15"/>
<circle cx="150.25" cy="458.08" r="1.15"/>
<circle cx="148.58" cy="461.4" r="1.15"/>
<circle cx="151.92" cy="461.4" r="1.15"/>
<circle cx="150.25" cy="464.72" r="1.15"/>
<circle cx="150.25" cy="468.04" r="1.15"/>
<circle cx="148.58" cy="471.36" r="1.15"/>
<circle cx="151.92" cy="471.36" r="1.15"/>
<circle cx="148.58" cy="478" r="1.15"/>
<circle cx="151.92" cy="478" r="1.15"/>
<circle cx="150.25" cy="481.32" r="1.15"/>
<circle cx="148.58" cy="484.64" r="1.15"/>
<circle cx="151.92" cy="484.64" r="1.15"/>
<circle cx="148.58" cy="487.96" r="1.15"/>
<circle cx="151.92" cy="487.96" r="1.15"/>
<circle cx="148.58" cy="491.28" r="1.15"/>
<circle cx="151.92" cy="491.28" r="1.15"/>
<circle cx="146.91" cy="494.6" r="1.15"/>
<circle cx="150.25" cy="494.6" r="1.15"/>
<circle cx="153.59" cy="494.6" r="1.15"/>
<circle cx="141.9" cy="497.92" r="1.15"/>
<circle cx="145.24" cy="497.92" r="1.15"/>
<circle cx="148.58" cy="497.92" r="1.15"/>
<circle cx="151.92" cy="497.92" r="1.15"/>
<circle cx="155.26" cy="497.92" r="1.15"/>
<circle cx="158.6" cy="497.92" r="1.15"/>
<circle cx="146.91" cy="501.24" r="1.15"/>
<circle cx="150.25" cy="501.24" r="1.15"/>
<circle cx="153.59" cy="501.24" r="1.15"/>
<circle cx="146.91" cy="504.56" r="1.15"/>
<circle cx="150.25" cy="504.56" r="1.15"/>
<circle cx="153.59" cy="504.56" r="1.15"/>
<circle cx="146.91" cy="507.88" r="1.15"/>
<circle cx="150.25" cy="507.88" r="1.15"/>
<circle cx="153.59" cy="507.88" r="1.15"/>
<circle cx="143.57" cy="511.2" r="1.15"/>
<circle cx="146.91" cy="511.2" r="1.15"/>
<circle cx="150.25" cy="511.2" r="1.15"/>
<circle cx="153.59" cy="511.2" r="1.15"/>
<circle cx="156.93" cy="511.2" r="1.15"/>
<circle cx="146.91" cy="514.52" r="1.15"/>
<circle cx="150.25" cy="514.52" r="1.15"/>
<circle cx="153.59" cy="514.52" r="1.15"/>
<circle cx="146.91" cy="517.84" r="1.15"/>
<circle cx="150.25" cy="517.84" r="1.15"/>
<circle cx="153.59" cy="517.84" r="1.15"/>
<circle cx="148.58" cy="521.16" r="1.15"/>
<circle cx="151.92" cy="521.16" r="1.15"/>
<circle cx="148.58" cy="524.48" r="1.15"/>
<circle cx="151.92" cy="524.48" r="1.15"/>
<circle cx="141.9" cy="527.8" r="1.15"/>
<circle cx="145.24" cy="527.8" r="1.15"/>
<circle cx="148.58" cy="527.8" r="1.15"/>
<circle cx="151.92" cy="527.8" r="1.15"/>
<circle cx="155.26" cy="527.8" r="1.15"/>
<circle cx="158.6" cy="527.8" r="1.15"/>
<circle cx="143.57" cy="531.12" r="1.15"/>
<circle cx="146.91" cy="531.12" r="1.15"/>
<circle cx="150.25" cy="531.12" r="1.15"/>
<circle cx="153.59" cy="531.12" r="1.15"/>
<circle cx="156.93" cy="531.12" r="1.15"/>
<circle cx="145.24" cy="534.44" r="1.15"/>
<circle cx="148.58" cy="534.44" r="1.15"/>
<circle cx="151.92" cy="534.44" r="1.15"/>
<circle cx="155.26" cy="534.44" r="1.15"/>
<circle cx="150.25" cy="537.76" r="1.15"/>
<circle cx="141.9" cy="544.4" r="1.15"/>
<circle cx="145.24" cy="544.4" r="1.15"/>
<circle cx="148.58" cy="544.4" r="1.15"/>
<circle cx="151.92" cy="544.4" r="1.15"/>
<circle cx="155.26" cy="544.4" r="1.15"/>
<circle cx="158.6" cy="544.4" r="1.15"/>
<circle cx="148.58" cy="547.72" r="1.15"/>
<circle cx="151.92" cy="547.72" r="1.15"/>
<circle cx="148.58" cy="551.04" r="1.15"/>
<circle cx="151.92" cy="551.04" r="1.15"/>
<circle cx="150.25" cy="554.36" r="1.15"/>
<circle cx="150.25" cy="557.68" r="1.15"/>
<circle cx="150.25" cy="580.92" r="1.15"/>
<circle cx="150.25" cy="597.52" r="1.15"/>
<circle cx="220.4" cy="527.8" r="1.15"/>
<circle cx="218.73" cy="531.12" r="1.15"/>
<circle cx="222.07" cy="531.12" r="1.15"/>
<circle cx="220.4" cy="534.44" r="1.15"/>
<circle cx="288.78" cy="411.6" r="1.15"/>
<circle cx="292.12" cy="411.6" r="1.15"/>
<circle cx="290.45" cy="421.56" r="1.15"/>
<circle cx="290.45" cy="431.52" r="1.15"/>
<circle cx="290.45" cy="434.84" r="1.15"/>
<circle cx="290.45" cy="438.16" r="1.15"/>
<circle cx="290.45" cy="441.48" r="1.15"/>
<circle cx="290.45" cy="444.8" r="1.15"/>
<circle cx="290.45" cy="451.44" r="1.15"/>
<circle cx="285.44" cy="458.08" r="1.15"/>
<circle cx="288.78" cy="458.08" r="1.15"/>
<circle cx="292.12" cy="458.08" r="1.15"/>
<circle cx="295.46" cy="458.08" r="1.15"/>
<circle cx="290.45" cy="464.72" r="1.15"/>
<circle cx="285.44" cy="468.04" r="1.15"/>
<circle cx="288.78" cy="468.04" r="1.15"/>
<circle cx="292.12" cy="468.04" r="1.15"/>
<circle cx="295.46" cy="468.04" r="1.15"/>
<circle cx="290.45" cy="471.36" r="1.15"/>
<circle cx="288.78" cy="474.68" r="1.15"/>
<circle cx="292.12" cy="474.68" r="1.15"/>
<circle cx="285.44" cy="478" r="1.15"/>
<circle cx="288.78" cy="478" r="1.15"/>
<circle cx="292.12" cy="478" r="1.15"/>
<circle cx="295.46" cy="478" r="1.15"/>
<circle cx="283.77" cy="481.32" r="1.15"/>
<circle cx="287.11" cy="481.32" r="1.15"/>
<circle cx="290.45" cy="481.32" r="1.15"/>
<circle cx="293.79" cy="481.32" r="1.15"/>
<circle cx="297.13" cy="481.32" r="1.15"/>
<circle cx="287.11" cy="484.64" r="1.15"/>
<circle cx="290.45" cy="484.64" r="1.15"/>
<circle cx="293.79" cy="484.64" r="1.15"/>
<circle cx="283.77" cy="487.96" r="1.15"/>
<circle cx="287.11" cy="487.96" r="1.15"/>
<circle cx="290.45" cy="487.96" r="1.15"/>
<circle cx="293.79" cy="487.96" r="1.15"/>
<circle cx="297.13" cy="487.96" r="1.15"/>
<circle cx="273.75" cy="491.28" r="1.15"/>
<circle cx="277.09" cy="491.28" r="1.15"/>
<circle cx="280.43" cy="491.28" r="1.15"/>
<circle cx="283.77" cy="491.28" r="1.15"/>
<circle cx="287.11" cy="491.28" r="1.15"/>
<circle cx="290.45" cy="491.28" r="1.15"/>
<circle cx="293.79" cy="491.28" r="1.15"/>
<circle cx="297.13" cy="491.28" r="1.15"/>
<circle cx="300.47" cy="491.28" r="1.15"/>
<circle cx="303.81" cy="491.28" r="1.15"/>
<circle cx="307.15" cy="491.28" r="1.15"/>
<circle cx="285.44" cy="494.6" r="1.15"/>
<circle cx="288.78" cy="494.6" r="1.15"/>
<circle cx="292.12" cy="494.6" r="1.15"/>
<circle cx="295.46" cy="494.6" r="1.15"/>
<circle cx="282.1" cy="497.92" r="1.15"/>
<circle cx="285.44" cy="497.92" r="1.15"/>
<circle cx="288.78" cy="497.92" r="1.15"/>
<circle cx="292.12" cy="497.92" r="1.15"/>
<circle cx="295.46" cy="497.92" r="1.15"/>
<circle cx="298.8" cy="497.92" r="1.15"/>
<circle cx="285.44" cy="501.24" r="1.15"/>
<circle cx="288.78" cy="501.24" r="1.15"/>
<circle cx="292.12" cy="501.24" r="1.15"/>
<circle cx="295.46" cy="501.24" r="1.15"/>
<circle cx="282.1" cy="504.56" r="1.15"/>
<circle cx="285.44" cy="504.56" r="1.15"/>
<circle cx="288.78" cy="504.56" r="1.15"/>
<circle cx="292.12" cy="504.56" r="1.15"/>
<circle cx="295.46" cy="504.56" r="1.15"/>
<circle cx="298.8" cy="504.56" r="1.15"/>
<circle cx="287.11" cy="507.88" r="1.15"/>
<circle cx="290.45" cy="507.88" r="1.15"/>
<circle cx="293.79" cy="507.88" r="1.15"/>
<circle cx="280.43" cy="511.2" r="1.15"/>
<circle cx="283.77" cy="511.2" r="1.15"/>
<circle cx="287.11" cy="511.2" r="1.15"/>
<circle cx="290.45" cy="511.2" r="1.15"/>
<circle cx="293.79" cy="511.2" r="1.15"/>
<circle cx="297.13" cy="511.2" r="1.15"/>
<circle cx="300.47" cy="511.2" r="1.15"/>
<circle cx="282.1" cy="514.52" r="1.15"/>
<circle cx="285.44" cy="514.52" r="1.15"/>
<circle cx="288.78" cy="514.52" r="1.15"/>
<circle cx="292.12" cy="514.52" r="1.15"/>
<circle cx="295.46" cy="514.52" r="1.15"/>
<circle cx="298.8" cy="514.52" r="1.15"/>
<circle cx="275.42" cy="517.84" r="1.15"/>
<circle cx="278.76" cy="517.84" r="1.15"/>
<circle cx="282.1" cy="517.84" r="1.15"/>
<circle cx="285.44" cy="517.84" r="1.15"/>
<circle cx="288.78" cy="517.84" r="1.15"/>
<circle cx="292.12" cy="517.84" r="1.15"/>
<circle cx="295.46" cy="517.84" r="1.15"/>
<circle cx="298.8" cy="517.84" r="1.15"/>
<circle cx="302.14" cy="517.84" r="1.15"/>
<circle cx="305.48" cy="517.84" r="1.15"/>
<circle cx="283.77" cy="521.16" r="1.15"/>
<circle cx="287.11" cy="521.16" r="1.15"/>
<circle cx="290.45" cy="521.16" r="1.15"/>
<circle cx="293.79" cy="521.16" r="1.15"/>
<circle cx="297.13" cy="521.16" r="1.15"/>
<circle cx="278.76" cy="524.48" r="1.15"/>
<circle cx="282.1" cy="524.48" r="1.15"/>
<circle cx="285.44" cy="524.48" r="1.15"/>
<circle cx="288.78" cy="524.48" r="1.15"/>
<circle cx="292.12" cy="524.48" r="1.15"/>
<circle cx="295.46" cy="524.48" r="1.15"/>
<circle cx="298.8" cy="524.48" r="1.15"/>
<circle cx="302.14" cy="524.48" r="1.15"/>
<circle cx="285.44" cy="527.8" r="1.15"/>
<circle cx="288.78" cy="527.8" r="1.15"/>
<circle cx="292.12" cy="527.8" r="1.15"/>
<circle cx="295.46" cy="527.8" r="1.15"/>
<circle cx="273.75" cy="531.12" r="1.15"/>
<circle cx="277.09" cy="531.12" r="1.15"/>
<circle cx="280.43" cy="531.12" r="1.15"/>
<circle cx="283.77" cy="531.12" r="1.15"/>
<circle cx="287.11" cy="531.12" r="1.15"/>
<circle cx="290.45" cy="531.12" r="1.15"/>
<circle cx="293.79" cy="531.12" r="1.15"/>
<circle cx="297.13" cy="531.12" r="1.15"/>
<circle cx="300.47" cy="531.12" r="1.15"/>
<circle cx="303.81" cy="531.12" r="1.15"/>
<circle cx="307.15" cy="531.12" r="1.15"/>
<circle cx="282.1" cy="534.44" r="1.15"/>
<circle cx="285.44" cy="534.44" r="1.15"/>
<circle cx="288.78" cy="534.44" r="1.15"/>
<circle cx="292.12" cy="534.44" r="1.15"/>
<circle cx="295.46" cy="534.44" r="1.15"/>
<circle cx="298.8" cy="534.44" r="1.15"/>
<circle cx="285.44" cy="537.76" r="1.15"/>
<circle cx="288.78" cy="537.76" r="1.15"/>
<circle cx="292.12" cy="537.76" r="1.15"/>
<circle cx="295.46" cy="537.76" r="1.15"/>
<circle cx="290.45" cy="541.08" r="1.15"/>
<circle cx="288.78" cy="544.4" r="1.15"/>
<circle cx="292.12" cy="544.4" r="1.15"/>
<circle cx="288.78" cy="547.72" r="1.15"/>
<circle cx="292.12" cy="547.72" r="1.15"/>
<circle cx="285.44" cy="551.04" r="1.15"/>
<circle cx="288.78" cy="551.04" r="1.15"/>
<circle cx="292.12" cy="551.04" r="1.15"/>
<circle cx="295.46" cy="551.04" r="1.15"/>
<circle cx="287.11" cy="554.36" r="1.15"/>
<circle cx="290.45" cy="554.36" r="1.15"/>
<circle cx="293.79" cy="554.36" r="1.15"/>
<circle cx="288.78" cy="557.68" r="1.15"/>
<circle cx="292.12" cy="557.68" r="1.15"/>
<circle cx="290.45" cy="567.64" r="1.15"/>
<circle cx="290.45" cy="577.6" r="1.15"/>
<circle cx="360.5" cy="421.56" r="1.15"/>
<circle cx="360.5" cy="441.48" r="1.15"/>
<circle cx="360.5" cy="454.76" r="1.15"/>
<circle cx="358.83" cy="468.04" r="1.15"/>
<circle cx="362.17" cy="468.04" r="1.15"/>
<circle cx="360.5" cy="484.64" r="1.15"/>
<circle cx="360.5" cy="487.96" r="1.15"/>
<circle cx="360.5" cy="491.28" r="1.15"/>
<circle cx="358.83" cy="494.6" r="1.15"/>
<circle cx="362.17" cy="494.6" r="1.15"/>
<circle cx="358.83" cy="497.92" r="1.15"/>
<circle cx="362.17" cy="497.92" r="1.15"/>
<circle cx="360.5" cy="501.24" r="1.15"/>
<circle cx="357.16" cy="507.88" r="1.15"/>
<circle cx="360.5" cy="507.88" r="1.15"/>
<circle cx="363.84" cy="507.88" r="1.15"/>
<circle cx="358.83" cy="511.2" r="1.15"/>
<circle cx="362.17" cy="511.2" r="1.15"/>
<circle cx="357.16" cy="514.52" r="1.15"/>
<circle cx="360.5" cy="514.52" r="1.15"/>
<circle cx="363.84" cy="514.52" r="1.15"/>
<circle cx="358.83" cy="517.84" r="1.15"/>
<circle cx="362.17" cy="517.84" r="1.15"/>
<circle cx="357.16" cy="521.16" r="1.15"/>
<circle cx="360.5" cy="521.16" r="1.15"/>
<circle cx="363.84" cy="521.16" r="1.15"/>
<circle cx="358.83" cy="524.48" r="1.15"/>
<circle cx="362.17" cy="524.48" r="1.15"/>
<circle cx="357.16" cy="527.8" r="1.15"/>
<circle cx="360.5" cy="527.8" r="1.15"/>
<circle cx="363.84" cy="527.8" r="1.15"/>
<circle cx="360.5" cy="531.12" r="1.15"/>
<circle cx="360.5" cy="534.44" r="1.15"/>
<circle cx="357.16" cy="537.76" r="1.15"/>
<circle cx="360.5" cy="537.76" r="1.15"/>
<circle cx="363.84" cy="537.76" r="1.15"/>
<circle cx="360.5" cy="547.72" r="1.15"/>
<circle cx="360.5" cy="551.04" r="1.15"/>
<circle cx="360.5" cy="554.36" r="1.15"/>
<circle cx="358.83" cy="557.68" r="1.15"/>
<circle cx="362.17" cy="557.68" r="1.15"/>
<circle cx="360.5" cy="561" r="1.15"/>
<circle cx="360.5" cy="564.32" r="1.15"/>
<circle cx="360.5" cy="577.6" r="1.15"/>
<circle cx="430.8" cy="372.76" r="1.15"/>
<circle cx="430.8" cy="411.6" r="1.15"/>
<circle cx="430.8" cy="431.52" r="1.15"/>
<circle cx="430.8" cy="468.04" r="1.15"/>
<circle cx="430.8" cy="474.68" r="1.15"/>
<circle cx="430.8" cy="481.32" r="1.15"/>
<circle cx="429.13" cy="487.96" r="1.15"/>
<circle cx="432.47" cy="487.96" r="1.15"/>
<circle cx="430.8" cy="491.28" r="1.15"/>
<circle cx="430.8" cy="494.6" r="1.15"/>
<circle cx="430.8" cy="497.92" r="1.15"/>
<circle cx="430.8" cy="501.24" r="1.15"/>
<circle cx="430.8" cy="514.52" r="1.15"/>
<circle cx="430.8" cy="517.84" r="1.15"/>
<circle cx="430.8" cy="521.16" r="1.15"/>
<circle cx="430.8" cy="527.8" r="1.15"/>
<circle cx="430.8" cy="547.72" r="1.15"/>
<circle cx="500.9" cy="458.08" r="1.15"/>
<circle cx="500.9" cy="478" r="1.15"/>
<circle cx="500.9" cy="484.64" r="1.15"/>
<circle cx="500.9" cy="497.92" r="1.15"/>
<circle cx="500.9" cy="507.88" r="1.15"/>
<circle cx="500.9" cy="534.44" r="1.15"/>
<circle cx="500.9" cy="537.76" r="1.15"/>
<circle cx="500.9" cy="554.36" r="1.15"/>
<circle cx="500.9" cy="564.32" r="1.15"/>
</g>
<g fill="#000">
<circle cx="158.6" cy="155.2" r="5"/>
<circle cx="283.3" cy="140.7" r="5"/>
<circle cx="407.8" cy="157.7" r="5"/>
<circle cx="80.2" cy="522.9" r="5"/>
<circle cx="150.2" cy="515.5" r="5"/>
<circle cx="220.6" cy="534.6" r="5"/>
<circle cx="290.5" cy="514.3" r="5"/>
<circle cx="360.5" cy="521" r="5"/>
<circle cx="430.8" cy="493" r="5"/>
<circle cx="500.9" cy="528" r="5"/>
</g>
</svg>
</body></html>
